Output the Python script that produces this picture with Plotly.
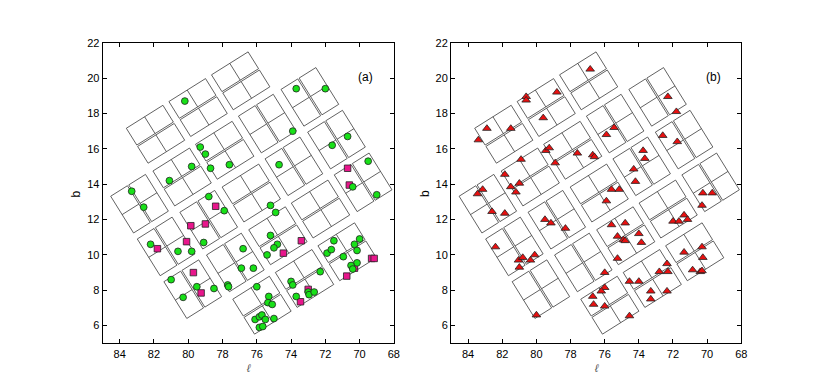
import numpy as np
import plotly.graph_objects as go

# ---------------- data ----------------
green_l = [80.2, 73.7, 72.0, 73.9, 70.7, 71.6, 79.3, 79.0, 79.8, 78.7, 77.6, 74.7, 69.5, 81.1,
           83.3, 78.8, 70.4, 69.0, 82.6, 75.2, 74.9, 77.9, 82.2, 80.6, 79.8, 79.1, 76.8, 75.2,
           74.8, 75.0, 75.4, 76.9, 76.2, 77.7, 77.65, 81.0, 80.3, 79.5, 78.5, 76.0, 75.3, 75.35,
           75.1, 76.1, 75.85, 75.7, 75.5, 75.0, 75.85, 75.65, 74.0, 73.9, 73.7, 73.0, 72.95,
           72.65, 72.3, 71.9, 71.65, 71.5, 70.95, 70.3, 70.0, 70.15, 70.15, 70.5, 70.4]
green_b = [18.7, 19.4, 19.4, 17.0, 16.7, 16.2, 16.1, 15.7, 15.0, 14.9, 15.1, 15.1, 15.3, 14.2,
           13.6, 13.3, 13.85, 13.4, 12.7, 12.8, 12.4, 12.5, 10.6, 10.2, 10.2, 10.7, 10.35, 11.1,
           10.6, 10.4, 10.0, 9.25, 9.25, 8.3, 8.2, 8.6, 7.6, 8.2, 8.1, 8.2, 7.65, 7.3,
           7.2, 6.35, 6.5, 6.6, 6.35, 6.4, 5.9, 5.95, 8.5, 8.3, 7.65, 7.9, 7.75,
           7.9, 9.05, 10.1, 10.3, 10.8, 9.9, 10.6, 10.9, 10.25, 9.55, 9.4, 9.2]

square_l = [70.7, 70.6, 78.4, 79.0, 79.85, 80.1, 81.8, 79.7, 79.25, 73.4, 74.45, 73.0, 73.45,
            70.75, 70.3, 69.3, 69.15]
square_b = [14.9, 13.95, 12.75, 11.75, 11.65, 10.75, 10.35, 9.0, 7.85, 10.8, 10.1, 8.05, 7.35,
            8.8, 9.25, 9.8, 9.8]

tri_l = [76.85, 80.6, 80.6, 78.8, 79.6, 82.9, 81.5, 83.4, 72.3, 71.8, 75.45, 75.9, 72.6, 71.75,
         79.45, 79.25, 80.9, 78.9, 77.6, 76.7, 76.6, 73.75, 73.65, 74.3, 74.2, 81.85, 81.5, 81.2,
         81.0, 83.15, 83.45, 75.6, 75.15, 75.9, 70.25, 69.7, 82.6, 81.85, 70.3, 79.5, 79.15, 78.3,
         72.0, 71.65, 71.35, 71.15, 75.6, 74.8, 75.25, 74.9, 74.8, 74.0, 73.85, 75.25, 82.4, 81.05,
         80.8, 81.0, 80.35, 80.1, 80.0, 76.0, 76.0, 76.2, 76.7, 76.65, 76.0, 74.55, 74.55, 74.0,
         73.3, 73.3, 72.8, 72.35, 72.3, 72.35, 71.35, 70.3, 70.25, 70.85, 70.4, 70.3]
tri_b = [20.5, 18.95, 18.75, 19.2, 17.75, 17.15, 17.15, 16.5, 18.95, 18.1, 17.2, 16.8, 16.75, 16.4,
         15.9, 16.05, 15.4, 15.2, 15.75, 15.65, 15.55, 15.9, 15.45, 14.85, 14.15, 14.55, 13.85, 13.55,
         14.05, 13.7, 13.45, 13.7, 13.7, 13.05, 13.5, 13.5, 12.45, 12.35, 12.8, 12.0, 11.8, 11.5,
         11.9, 11.9, 12.25, 12.0, 11.7, 11.8, 11.05, 10.85, 10.8, 11.2, 10.7, 9.8, 10.45, 9.7,
         9.85, 9.3, 9.7, 10.0, 6.6, 9.0, 8.15, 7.95, 7.65, 7.2, 7.1, 6.55, 8.5, 8.5,
         7.95, 7.5, 9.05, 9.5, 9.05, 7.95, 10.15, 10.45, 9.85, 9.15, 9.05, 9.1]

x_ticks = [68, 70, 72, 74, 76, 78, 80, 82, 84]
y_ticks = [6, 8, 10, 12, 14, 16, 18, 20, 22]
panel_labels = ["(a)", "(b)"]

# ---------------- field-of-view layout (module grid) ----------------
L0, B0 = 76.32, 13.50          # field centre
THETA = np.radians(32.0)       # grid rotation
PITCH = 2.85                   # module spacing (deg)
LONG, SHORT = 2.45, 2.33       # module size (deg)
GAP = 0.09                     # gap between the two CCDs of a module
ORIENT = [
    [None, 'u', 'u', 'u', None],
    ['v', 'u', 'u', 'v', 'v'],
    ['v', 'v', 'u', 'v', 'v'],
    ['v', 'v', 'u', 'u', 'v'],
    [None, 'u', 'u', 'u', None],
]

cosb = np.cos(np.radians(B0))
uhat = np.array([np.cos(THETA), np.sin(THETA)])
vhat = np.array([np.sin(THETA), -np.cos(THETA)])


def to_lb(p):
    return L0 - p[0] / cosb, B0 + p[1]


def fov_lines():
    xs, ys = [], []

    def seg(points):
        for p in points:
            l, b = to_lb(p)
            xs.append(l)
            ys.append(b)
        xs.append(None)
        ys.append(None)

    for j in range(5):
        for i in range(5):
            o = ORIENT[j][i]
            if o is None:
                continue
            c = (i - 2) * PITCH * uhat + (j - 2) * PITCH * vhat
            eL, eW = (uhat, vhat) if o == 'u' else (vhat, uhat)
            w = (SHORT - GAP) / 2
            for k in (-1, 1):
                cc = c + k * (GAP / 2 + w / 2) * eW
                a = LONG / 2 * eL
                bb = w / 2 * eW
                seg([cc - a - bb, cc + a - bb, cc + a + bb, cc - a + bb, cc - a - bb])
                seg([cc - bb, cc + bb])
    return xs, ys


fx, fy = fov_lines()

fig = go.Figure()
for ax in ("", "2"):
    fig.add_trace(go.Scatter(x=fx, y=fy, mode="lines", xaxis="x" + ax, yaxis="y" + ax,
                             line=dict(color="#3a3a3a", width=0.8), hoverinfo="skip",
                             showlegend=False))

fig.add_trace(go.Scatter(x=square_l, y=square_b, mode="markers", xaxis="x", yaxis="y",
                         marker=dict(symbol="square", size=6.5, color="#e8168c",
                                     line=dict(color="#222", width=0.8)), showlegend=False))
fig.add_trace(go.Scatter(x=green_l, y=green_b, mode="markers", xaxis="x", yaxis="y",
                         marker=dict(symbol="circle", size=6.8, color="#18e018",
                                     line=dict(color="#222", width=0.8)), showlegend=False))
fig.add_trace(go.Scatter(x=tri_l, y=tri_b, mode="markers", xaxis="x2", yaxis="y2",
                         marker=dict(symbol="triangle-up", size=7.5, color="#e81010",
                                     line=dict(color="#222", width=0.8)), showlegend=False))

font = dict(family="Liberation Sans, Arial, sans-serif", size=11, color="black")
axis_common = dict(showline=True, linecolor="black", linewidth=1, mirror="ticks",
                   ticks="inside", ticklen=4, tickcolor="black", showgrid=False,
                   zeroline=False, tickfont=font)

doms_x = [[0.1245, 0.478], [0.5474, 0.8996]]
dom_y = [0.1005, 0.9021]
layout = dict(width=830, height=381, margin=dict(l=0, r=0, t=0, b=0),
              paper_bgcolor="white", plot_bgcolor="white", showlegend=False)
for n, ax in enumerate(("", "2")):
    layout["xaxis" + ax] = dict(axis_common, domain=doms_x[n], range=[85, 68],
                                tickvals=x_ticks, anchor="y" + ax)
    layout["yaxis" + ax] = dict(axis_common, domain=dom_y, range=[5, 22],
                                tickvals=y_ticks, anchor="x" + ax)
fig.update_layout(**layout)

ann = []
for n, ax in enumerate(("", "2")):
    ann.append(dict(x=69.65, y=20.07, xref="x" + ax, yref="y" + ax, text=panel_labels[n],
                    showarrow=False, xanchor="center", yanchor="middle",
                    font=dict(font, size=12)))
    xc = (doms_x[n][0] + doms_x[n][1]) / 2
    ann.append(dict(x=xc, y=(381 - 367.5) / 381, xref="paper", yref="paper", text="<i>ℓ</i>",
                    showarrow=False, xanchor="center", yanchor="middle",
                    font=dict(font, size=11, color="#555")))
    ann.append(dict(x=doms_x[n][0] - 0.0325, y=(381 - 190.7) / 381, xref="paper",
                    yref="paper", text="b", textangle=-90, showarrow=False,
                    xanchor="center", yanchor="middle", font=dict(font, size=12)))
fig.update_layout(annotations=ann)

fig.write_html("out.html", config={"displayModeBar": False},
               post_script="document.body.style.margin='0';document.body.style.overflow='hidden';")
